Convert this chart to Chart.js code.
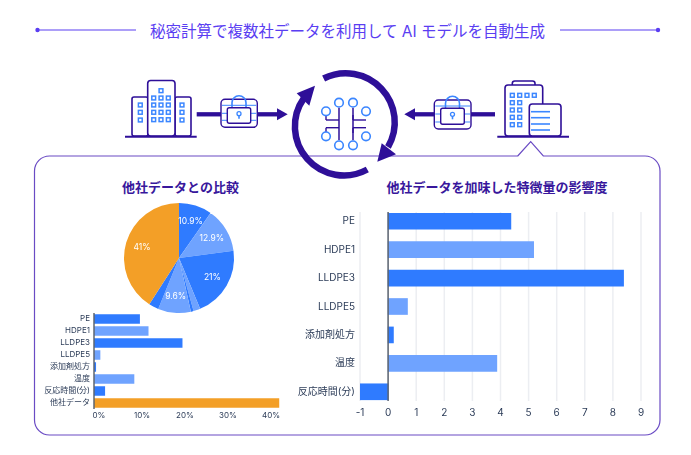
<!DOCTYPE html>
<html lang="ja">
<head>
<meta charset="utf-8">
<title>秘密計算で複数社データを利用して AI モデルを自動生成</title>
<script src="https://cdn.jsdelivr.net/npm/chart.js@4"></script>
<style>
  html, body { margin: 0; padding: 0; background: #fff; }
  #page { position: relative; width: 691px; height: 455px; overflow: hidden; font-family: Inter, "Noto Sans CJK JP", sans-serif; }
  #art { position: absolute; left: 0; top: 0; }
  canvas { position: absolute; }
  .txt { position: absolute; white-space: nowrap; transform: translate(-50%, -50%); }
  #main-title { left: 347.5px; top: 30px; font-size: 15.5px; color: #5a3ef2; }
  .sub { top: 185.5px; font-size: 13px; font-weight: 700; color: #38179c; }
</style>
</head>
<body>
<div id="page">
  <svg id="art" width="691" height="455" viewBox="0 0 691 455" xmlns="http://www.w3.org/2000/svg"></svg>
  <div class="txt" id="main-title">秘密計算で複数社データを利用して AI モデルを自動生成</div>
  <div class="txt sub" style="left:180.5px">他社データとの比較</div>
  <div class="txt sub" style="left:497px">他社データを加味した特徴量の影響度</div>
  <canvas id="pie" width="120" height="120" style="left:119px;top:198px"></canvas>
  <canvas id="share" width="261" height="114" style="left:34px;top:308px"></canvas>
  <canvas id="impact" width="361" height="222" style="left:290px;top:200px"></canvas>
</div>
<script>
// データ
const pieValues = [9.7, 13.1, 20.8, 2.0, 0.8, 9.6, 2.9, 40.8];
const pieLabels = ['10.9%', '12.9%', '21%', '', '', '9.6%', '', '41%'];
const shareCategories = ['PE', 'HDPE1', 'LLDPE3', 'LLDPE5', '添加剤処方', '温度', '反応時間(分)', '他社データ'];
const shareValues = [10.6, 12.6, 20.5, 1.4, 0.4, 9.3, 2.5, 43];
const impactCategories = ['PE', 'HDPE1', 'LLDPE3', 'LLDPE5', '添加剤処方', '温度', '反応時間(分)'];
const impactValues = [4.37, 5.18, 8.38, 0.69, 0.19, 3.87, -1.0];

const BLUE = '#2f7bff', LIGHT = '#6fa3ff', ORANGE = '#f39f27';
const TEXT = '#2c3c58', GRID = '#eceef2', ZERO = '#5d6470';
const pieColors = [BLUE, LIGHT, BLUE, LIGHT, BLUE, LIGHT, BLUE, ORANGE];

Chart.defaults.font.family = 'Inter, "Noto Sans CJK JP", sans-serif';
Chart.defaults.animation = false;
Chart.defaults.responsive = false;
Chart.defaults.plugins.legend.display = false;
Chart.defaults.plugins.tooltip.enabled = false;

// 円グラフの中のラベル
const sliceLabels = {
    id: 'sliceLabels',
    afterDatasetsDraw(chart) {
        const ctx = chart.ctx;
        ctx.save();
        ctx.fillStyle = '#fff';
        ctx.font = '8.5px ' + Chart.defaults.font.family;
        ctx.textAlign = 'center';
        ctx.textBaseline = 'middle';
        chart.getDatasetMeta(0).data.forEach((arc, i) => {
            if (!pieLabels[i]) return;
            const mid = (arc.startAngle + arc.endAngle) / 2;
            const r = arc.outerRadius * 0.7;
            ctx.fillText(pieLabels[i], arc.x + Math.cos(mid) * r, arc.y + Math.sin(mid) * r);
        });
        ctx.restore();
    }
};

// グリッドとゼロ線（上下を少し詰める）
const valueLines = {
    id: 'valueLines',
    beforeDatasetsDraw(chart, args, opts) {
        if (!opts.grid) return;
        const { ctx, chartArea, scales } = chart;
        ctx.save();
        ctx.strokeStyle = GRID;
        ctx.lineWidth = 1.5;
        scales.x.ticks.forEach(t => {
            const x = scales.x.getPixelForValue(t.value);
            ctx.beginPath();
            ctx.moveTo(x, chartArea.top + opts.inset);
            ctx.lineTo(x, chartArea.bottom - opts.inset);
            ctx.stroke();
        });
        ctx.restore();
    },
    afterDatasetsDraw(chart, args, opts) {
        const { ctx, chartArea, scales } = chart;
        const x = scales.x.getPixelForValue(0);
        ctx.save();
        ctx.strokeStyle = ZERO;
        ctx.lineWidth = 1.5;
        ctx.beginPath();
        ctx.moveTo(x, chartArea.top + opts.inset);
        ctx.lineTo(x, chartArea.bottom - opts.inset);
        ctx.stroke();
        ctx.restore();
    }
};

// 軸の幅を固定する
const fixY = w => s => { s.width = w; s.paddingTop = 0; s.paddingBottom = 0; };

new Chart(document.getElementById('pie'), {
    type: 'pie',
    data: { labels: shareCategories, datasets: [{ data: pieValues, backgroundColor: pieColors, borderWidth: 0 }] },
    options: { layout: { padding: 5 } },
    plugins: [sliceLabels]
});

new Chart(document.getElementById('share'), {
    type: 'bar',
    data: {
        labels: shareCategories,
        datasets: [{
            data: shareValues,
            backgroundColor: [BLUE, LIGHT, BLUE, LIGHT, BLUE, LIGHT, BLUE, ORANGE],
            barThickness: 9
        }]
    },
    options: {
        indexAxis: 'y',
        layout: { padding: { top: 5, right: 7.5 } },
        plugins: { valueLines: { inset: 0, grid: false } },
        scales: {
            x: {
                min: 0, max: 45,
                grid: { display: false, drawTicks: false }, border: { display: false },
                afterFit: s => { s.height = 13; },
                ticks: {
                    stepSize: 10, padding: 2, labelOffset: 5, color: TEXT,
                    font: { size: 8 }, maxRotation: 0,
                    callback: v => (v % 10 === 0 ? v + '%' : null)
                }
            },
            y: {
                grid: { display: false, drawTicks: false }, border: { display: false },
                afterFit: fixY(60),
                ticks: { padding: 4, color: TEXT, font: { size: 8 }, autoSkip: false }
            }
        }
    },
    plugins: [valueLines]
});

new Chart(document.getElementById('impact'), {
    type: 'bar',
    data: {
        labels: impactCategories,
        datasets: [{
            data: impactValues,
            backgroundColor: [BLUE, LIGHT, BLUE, LIGHT, BLUE, LIGHT, BLUE],
            barThickness: 16
        }]
    },
    options: {
        indexAxis: 'y',
        layout: { padding: { top: 7, right: 10 } },
        plugins: { valueLines: { inset: 5, grid: true } },
        scales: {
            x: {
                min: -1, max: 9,
                grid: { display: false, drawTicks: false }, border: { display: false },
                afterFit: s => { s.height = 16; },
                ticks: { stepSize: 1, padding: 1, color: TEXT, font: { size: 10 }, maxRotation: 0 }
            },
            y: {
                grid: { display: false, drawTicks: false }, border: { display: false },
                afterFit: fixY(70),
                ticks: { padding: 5, color: TEXT, font: { size: 10 }, autoSkip: false }
            }
        }
    },
    plugins: [valueLines]
});

// イラスト（建物・鍵・矢印）
const DARK = '#2e0f98', SKY = '#3b86ff', PANEL = '#6a4bc4', TITLE = '#5a3ef2';
let art = '';

function win(x, y) { art += `<rect x="${x - 1.9}" y="${y - 1.9}" width="3.8" height="3.8" fill="#fff" stroke="${SKY}" stroke-width="1.5"/>`; }
function box(x1, y1, x2, y2, r) { art += `<rect x="${x1}" y="${y1}" width="${x2 - x1}" height="${y2 - y1}" rx="${r}" fill="#fff" stroke="${DARK}" stroke-width="1.6"/>`; }
function line(x1, y1, x2, y2, color, w) { art += `<line x1="${x1}" y1="${y1}" x2="${x2}" y2="${y2}" stroke="${color}" stroke-width="${w}"/>`; }
function tri(pts) { art += `<polygon points="${pts}" fill="${DARK}"/>`; }

// タイトルの線
line(37.5, 30, 136, 30, TITLE, 1.2); art += `<circle cx="37.5" cy="30" r="2.2" fill="${TITLE}"/>`;
line(560, 30, 658, 30, TITLE, 1.2); art += `<circle cx="658" cy="30" r="2.2" fill="${TITLE}"/>`;

// パネル枠
art += `<path d="M517.7 156 L530.7 141.7 L543.3 156 H645 a15 15 0 0 1 15 15 V420 a15 15 0 0 1 -15 15 H49.5 a15 15 0 0 1 -15 -15 V171 a15 15 0 0 1 15 -15 Z" fill="none" stroke="${PANEL}" stroke-width="1.2"/>`;

// 左の建物
box(132, 97, 148, 136, 2); box(175, 97, 191, 136, 2); box(147.7, 80.5, 175, 136, 3);
line(125, 136.7, 196.7, 136.7, DARK, 2);
win(161, 90.7);
[98, 105, 112.3, 119.7].forEach(y => [153.7, 161, 168.3].forEach(x => win(x, y)));
[105, 112.3, 120].forEach(y => { win(140.3, y); win(182, y); });

// 右の建物
art += `<rect x="512.3" y="81" width="22.7" height="8" rx="2.5" fill="#fff" stroke="${DARK}" stroke-width="1.6"/>`;
box(505, 85, 542.7, 136, 3); box(529.3, 104, 561, 136, 3);
line(497.3, 136.7, 569, 136.7, DARK, 2);
[512.3, 519.7, 527, 534.3].forEach(x => win(x, 95.3));
[102.7, 110, 117.3, 124.7].forEach(y => { win(512.3, y); win(519.7, y); });
[111.7, 117.7, 124, 130].forEach(y => line(531, y, 550, y, SKY, 1.6));

// 鍵
function lock(bx1, bx2, by1, by2, kx1, kx2, ky1, ky2) {
    art += `<rect x="${bx1}" y="${by1}" width="${bx2 - bx1}" height="${by2 - by1}" rx="4" fill="#fff" stroke="${DARK}" stroke-width="1.4"/>`;
    [by1 + 6, by1 + 14, by2 - 7].forEach(y => line(bx1 + 1, y, bx2 - 1, y, SKY, 1));
    const cx = (kx1 + kx2) / 2;
    art += `<path d="M${cx - 7} ${ky1} v-5 a7 7 0 0 1 14 0 v5" fill="none" stroke="${SKY}" stroke-width="1.6"/>`;
    art += `<rect x="${kx1}" y="${ky1}" width="${kx2 - kx1}" height="${ky2 - ky1}" rx="2" fill="#fff" stroke="${DARK}" stroke-width="1.4"/>`;
    art += `<circle cx="${cx}" cy="${ky1 + 6}" r="2" fill="none" stroke="${SKY}" stroke-width="1.3"/>`;
    line(cx, ky1 + 8, cx, ky1 + 11, SKY, 1.6);
}
line(196.7, 114.3, 222, 114.3, DARK, 4.3); line(256, 114.3, 278, 114.3, DARK, 4.3);
tri('277,108.3 287.7,114.3 277,120.3');
lock(221, 257.3, 99.3, 127.3, 227.3, 250.7, 107.7, 123.3);
line(471, 114.3, 495, 114.3, DARK, 4.3); line(414, 114.3, 435, 114.3, DARK, 4.3);
tri('415,108.3 404.3,114.3 415,120.3');
lock(434.3, 471, 100, 129, 440.7, 464.3, 108.3, 124.3);

// 循環の矢印
art += `<path d="M323.6 78.5 A49 49 0 0 1 388 147" fill="none" stroke="${DARK}" stroke-width="6.5"/>`;
tri('377.3,161.7 381.7,143.3 396,154.3');
art += `<path d="M367.3 169.5 A49 49 0 0 1 304 98" fill="none" stroke="${DARK}" stroke-width="6.5"/>`;
tri('315,85.7 296.7,93.3 309.3,105.7');

// AI のチップ
[[339, 107.7, 339, 140.3], [353, 107.7, 353, 140.3]].forEach(l => line(l[0], l[1], l[2], l[3], DARK, 1.5));
[[326, 339], [353, 366]].forEach(p => {
    line(p[0], 120, p[1], 120, DARK, 1.4);
    line(p[0], 127.7, p[1], 127.7, DARK, 1.4);
    line(p[0], 115, p[0], 120, DARK, 1.4);
    line(p[0], 127.7, p[0], 133, DARK, 1.4);
});
[[326, 111.3], [339, 102.7], [353, 102.7], [366, 111.3], [326, 136.3], [339, 145.3], [353, 145.3], [366, 136.3]].forEach(c => {
    art += `<circle cx="${c[0]}" cy="${c[1]}" r="4.3" fill="#fff" stroke="${SKY}" stroke-width="1.6"/>`;
});

document.getElementById('art').innerHTML = art;
</script>
</body>
</html>
